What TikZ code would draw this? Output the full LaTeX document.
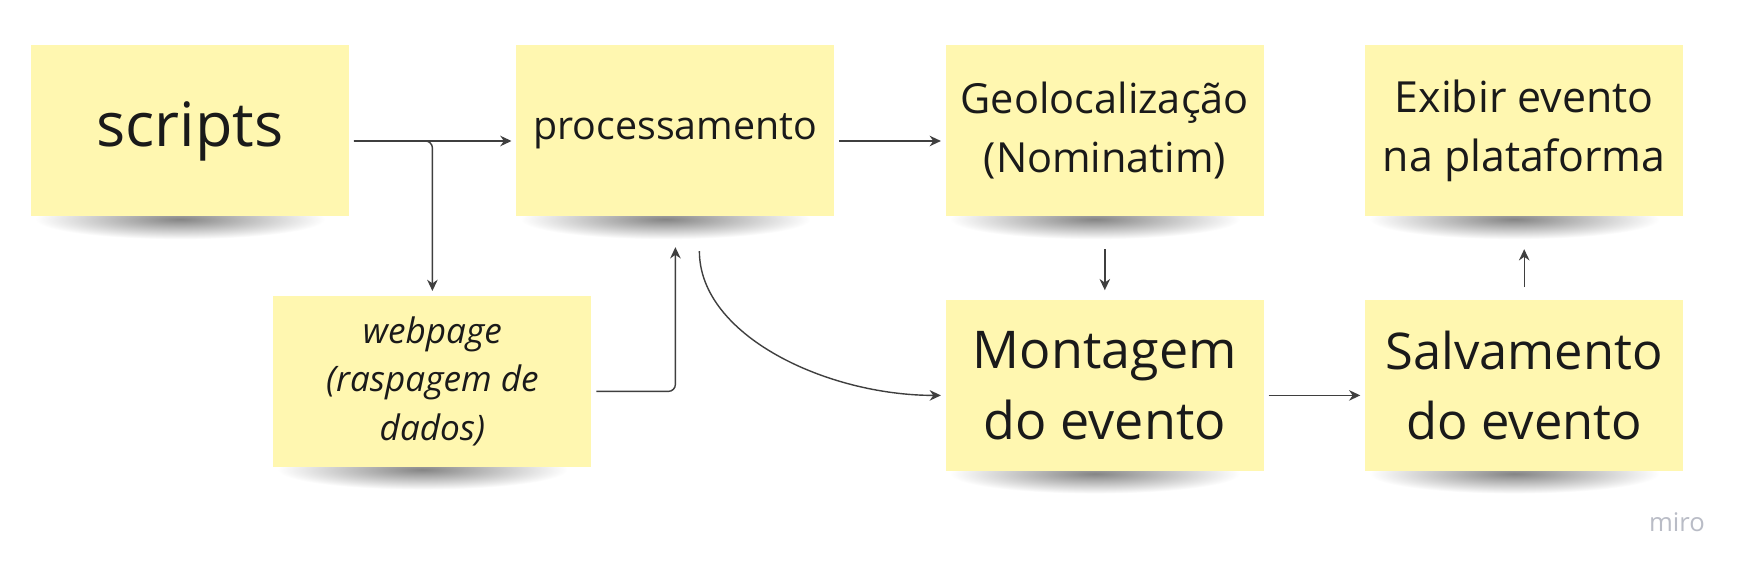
\documentclass[tikz,border=0pt]{standalone}
\usepackage{fontspec}
\setmainfont{Open Sans}
\usetikzlibrary{arrows.meta, positioning, backgrounds}
\definecolor{notefill}{HTML}{FFF7B0}
\definecolor{linegray}{HTML}{3F3F3F}
\definecolor{inkblack}{HTML}{1A1A1A}
\definecolor{logogray}{HTML}{B9BCC6}
\newcommand{\notewidth}{3.18cm}
\newcommand{\noteheight}{1.71cm}
\tikzstyle{note} = [% a sticky note of the board
  rectangle,
  minimum width=\notewidth,
  minimum height=\noteheight,
  inner sep=0pt,
  text centered,
  align=center,
  text=inkblack,
  fill=notefill
  ]
\tikzstyle{notedrop} = [% soft shadow under a note
  inner color=black!48,
  outer color=white
  ]
\tikzstyle{arrow} = [% connector format
  draw=linegray,
  line width=0.4pt,
  -{Stealth[length=3.2pt, width=3pt]},
  shorten <=1.2pt,
  shorten >=1.2pt
  ]

\begin{document}
\begin{tikzpicture}[node distance=1cm]
\useasboundingbox (0,0) rectangle (17.48,-5.72);

%%% Nodes
\node[note, font=\fontsize{17.4}{20}\selectfont] (scripts) at (1.90,-1.31) {scripts};
\node[note, font=\fontsize{11.2}{14}\selectfont] (proc) [right=1.66cm of scripts] {processamento};
\node[note, font=\fontsize{11.8}{16.8}\selectfont] (geo) [right=1.10cm of proc] {Geolocalização\\(Nominatim)};
\node[note, font=\fontsize{12.2}{16.8}\selectfont] (exibir) [right=1.0cm of geo] {Exibir evento\\na plataforma};

\node[note, font=\fontsize{10}{13.7}\selectfont\itshape] (webpage) [below right=0.78cm and -0.77cm of scripts] {webpage\\(raspagem de\\dados)};
\node[note, font=\fontsize{14.8}{20.3}\selectfont] (montagem) [below=0.82cm of geo] {Montagem\\do evento};
\node[note, font=\fontsize{14.4}{19.7}\selectfont] (salvamento) [below=0.82cm of exibir] {Salvamento\\do evento};

\node[text=logogray, font=\fontsize{7.3}{9}\selectfont] (miro) at (16.77,-5.22) {miro};

%%% Shadows
\begin{pgfonlayer}{background}
\fill[white] (0,0) rectangle (17.48,-5.72);
\foreach \n in {scripts, proc, geo, exibir, webpage, montagem, salvamento}
  \shade[notedrop] ([xshift=-0.1cm, yshift=-0.02cm]\n.south) ellipse [x radius=1.45cm, y radius=0.2cm];
\end{pgfonlayer}

%%% Arrows
\draw[arrow] ([yshift=-0.1cm]scripts.east) -- ([yshift=-0.1cm]proc.west);
\draw[arrow, rounded corners=2pt] ([yshift=-0.1cm]scripts.east) -| (webpage.north);
\draw[arrow, rounded corners=2pt, shorten >=0.3cm] ([yshift=-0.1cm]webpage.east) -| (proc.south);
\draw[arrow, shorten <=0.34cm] ([xshift=0.24cm]proc.south) to[out=-90, in=180] ([yshift=-0.1cm]montagem.west);
\draw[arrow] ([yshift=-0.1cm]proc.east) -- ([yshift=-0.1cm]geo.west);
\draw[arrow, shorten <=0.32cm, shorten >=0.09cm] (geo) -- (montagem);
\draw[arrow] ([yshift=-0.1cm]montagem.east) -- ([yshift=-0.1cm]salvamento.west);
\draw[arrow, shorten <=0.12cm, shorten >=0.32cm] (salvamento) -- (exibir);

\end{tikzpicture}
\end{document}
